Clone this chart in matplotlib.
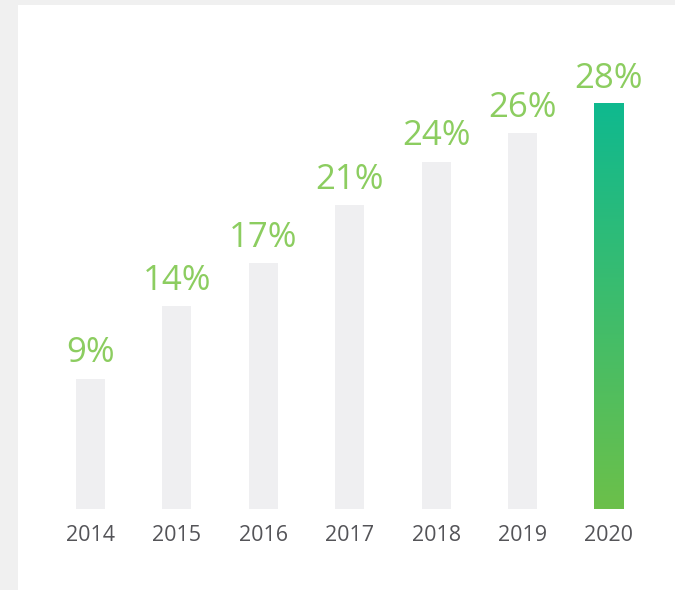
import matplotlib
matplotlib.use("Agg")
import matplotlib.pyplot as plt
import numpy as np
from matplotlib.colors import LinearSegmentedColormap

years = ["2014", "2015", "2016", "2017", "2018", "2019", "2020"]
values = [9, 14, 17, 21, 24, 26, 28]
labels = ["9%", "14%", "17%", "21%", "24%", "26%", "28%"]

W, H = 675, 590
fig = plt.figure(figsize=(W / 100, H / 100), dpi=100)
fig.patch.set_facecolor("#f0f0f0")
bg = fig.add_axes([18 / W, 0, 1 - 18 / W, 1 - 5 / H], zorder=-5)
bg.set_facecolor("white")
bg.set_xticks([]); bg.set_yticks([])
for s in bg.spines.values():
    s.set_visible(False)

step = 86.4
left = 90.5 - step / 2
ax_w = 7 * step
ax_h = 434
bottom = 81
ax = fig.add_axes([left / W, bottom / H, ax_w / W, ax_h / H], zorder=1)
ax.set_facecolor("none")
ax.axis("off")

bw = 0.336
x = np.arange(len(years))
font = "Open Sans"
for i, v in enumerate(values):
    if i < len(values) - 1:
        ax.bar(x[i], v, width=bw, color="#efeff1", zorder=2)
    else:
        ax.bar(x[i], v, width=bw, color="none", zorder=2)
        cmap = LinearSegmentedColormap.from_list("g", ["#6cc04a", "#0fb98f"])
        grad = np.linspace(0, 1, 256).reshape(-1, 1)
        ax.imshow(grad, extent=[x[i] - bw / 2, x[i] + bw / 2, 0, v], origin="lower",
                  cmap=cmap, aspect="auto", zorder=2)
    ax.annotate(labels[i], (x[i], v), xytext=(0, 6), textcoords="offset points",
                ha="center", va="bottom", fontsize=25, color="#8ccd60", family=font)
    ax.annotate(years[i], (x[i], 0), xytext=(0, -19), textcoords="offset points",
                ha="center", va="center", fontsize=15.5, color="#545458", family=font)
ax.set_xlim(-0.5, 6.5)
ax.set_ylim(0, 30)

fig.savefig("out.png", dpi=100, facecolor=fig.get_facecolor())
